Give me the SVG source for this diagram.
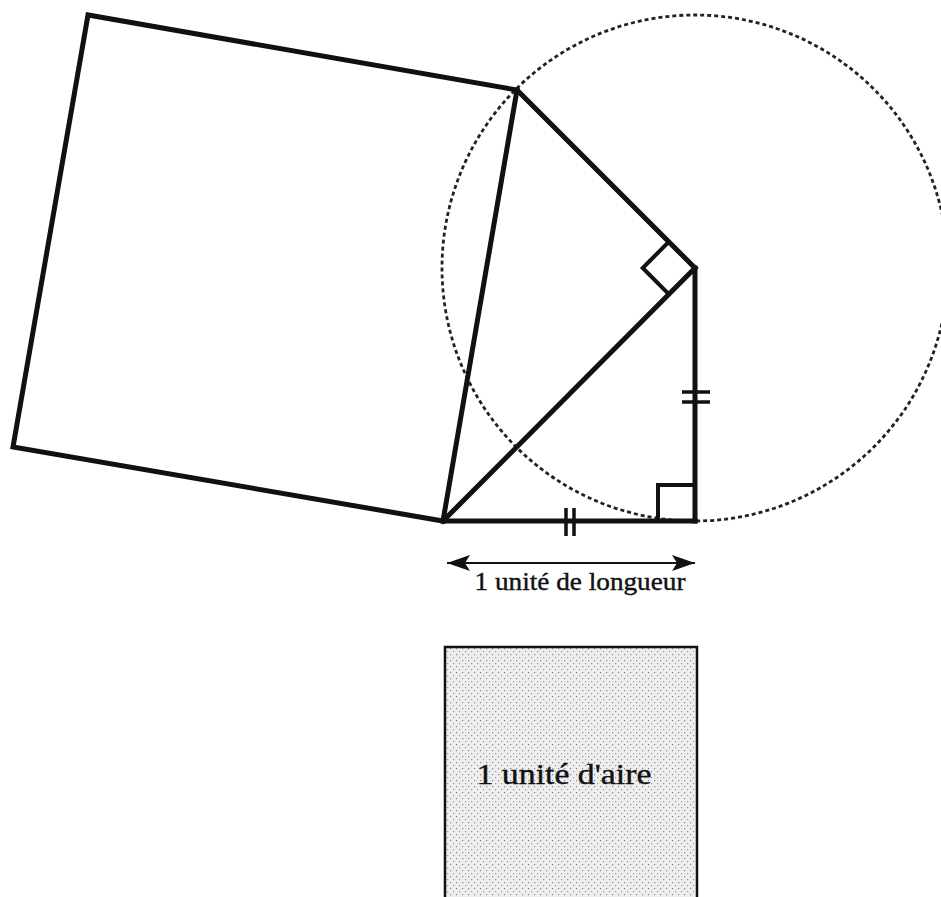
<svg xmlns="http://www.w3.org/2000/svg" width="941" height="897" viewBox="0 0 941 897">
  <defs>
    <marker id="arrowEnd" markerUnits="userSpaceOnUse" markerWidth="24" markerHeight="18" viewBox="0 0 24 18" refX="23" refY="9" orient="auto">
      <path d="M0,1 L23,9 L0,17 L5,9 Z" fill="#111"/>
    </marker>
    <marker id="arrowStart" markerUnits="userSpaceOnUse" markerWidth="24" markerHeight="18" viewBox="0 0 24 18" refX="1" refY="9" orient="auto">
      <path d="M24,1 L1,9 L24,17 L19,9 Z" fill="#111"/>
    </marker>
    <pattern id="stipple" patternUnits="userSpaceOnUse" width="6" height="6">
      <rect width="6" height="6" fill="#eeeeee"/>
      <rect x="0" y="0" width="1.2" height="1.2" fill="#888"/>
      <rect x="3" y="3" width="1.2" height="1.2" fill="#999"/>
    </pattern>
  </defs>
  <style>
    .thick { fill: none; stroke: #111; stroke-width: 5; stroke-linejoin: miter; stroke-linecap: square; }
    .mark { fill: none; stroke: #111; stroke-width: 4; stroke-linejoin: miter; }
    .tick { stroke: #111; stroke-width: 3.5; }
    .dashed { fill: none; stroke: #222; stroke-width: 2.8; stroke-dasharray: 4 3; }
    .lbl { font-family: "Liberation Serif", "DejaVu Serif", serif; fill: #111; stroke: #111; stroke-width: 0.4; text-anchor: middle; }
  </style>
  <rect width="941" height="897" fill="#ffffff"/>

  <g id="circle">
    <circle cx="695" cy="268" r="253" class="dashed"/>
  </g>

  <g id="big-square">
    <polygon points="443,521 517,90 88,15 13,447" class="thick"/>
  </g>

  <g id="connectors">
    <line x1="443" y1="521" x2="695" y2="521" class="thick"/>
    <line x1="695" y1="521" x2="695" y2="268" class="thick"/>
    <line x1="695" y1="268" x2="443" y2="521" class="thick"/>
    <line x1="517" y1="90" x2="695" y2="268" class="thick"/>
  </g>

  <g id="right-angle-top">
    <polyline points="668.8,241.8 642.7,268 668.8,294.2" class="mark"/>
  </g>
  <g id="right-angle-bottom">
    <polyline points="658,521 658,485 695,485" class="mark"/>
  </g>

  <g id="ticks-bottom">
    <line x1="566" y1="508" x2="566" y2="536" class="tick"/>
    <line x1="574" y1="508" x2="574" y2="536" class="tick"/>
  </g>
  <g id="ticks-vertical">
    <line x1="682" y1="392" x2="710" y2="392" class="tick"/>
    <line x1="682" y1="402" x2="710" y2="402" class="tick"/>
  </g>

  <g id="unit-length">
    <line x1="447" y1="563" x2="695" y2="563" stroke="#111" stroke-width="2.2" marker-start="url(#arrowStart)" marker-end="url(#arrowEnd)"/>
    <text x="580" y="590" class="lbl" font-size="25" textLength="211" lengthAdjust="spacingAndGlyphs">1 unité de longueur</text>
  </g>

  <g id="unit-area">
    <rect x="445" y="647" width="252" height="262" fill="url(#stipple)" stroke="#111" stroke-width="2.5"/>
    <text x="564" y="784" class="lbl" font-size="30" textLength="175" lengthAdjust="spacingAndGlyphs">1 unité d'aire</text>
  </g>
</svg>
